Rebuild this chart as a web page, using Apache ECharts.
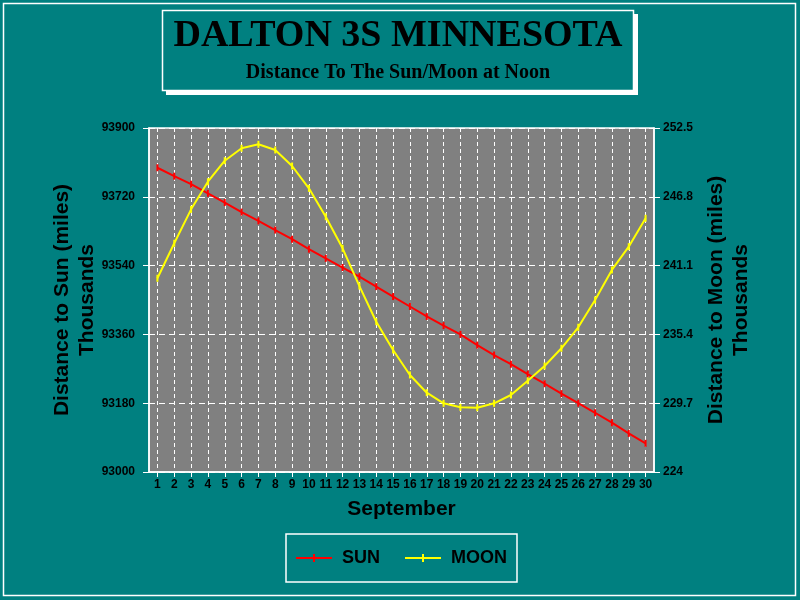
<!DOCTYPE html>
<html>
<head>
<meta charset="utf-8">
<script src="https://cdn.jsdelivr.net/npm/echarts@6/dist/echarts.min.js"></script>
<style>html,body{margin:0;padding:0;background:#008080;}#chart{width:800px;height:600px;}</style>
</head>
<body>
<div id="chart"></div>
<script>
const titleText = 'DALTON 3S MINNESOTA';
const subtitleText = 'Distance To The Sun/Moon at Noon';
const days = ['1','2','3','4','5','6','7','8','9','10','11','12','13','14','15','16','17','18','19','20','21','22','23','24','25','26','27','28','29','30'];
const sunValues = [93796,93774,93753,93729,93705,93680,93657,93633,93609,93583,93559,93535,93511,93485,93459,93433,93407,93383,93360,93332,93306,93282,93256,93231,93205,93180,93155,93129,93101,93075];
const moonValues = [240.05,242.95,245.76,248.05,249.79,250.82,251.15,250.68,249.35,247.50,245.15,242.53,239.4,236.45,234.11,232.04,230.57,229.69,229.36,229.33,229.69,230.38,231.56,232.78,234.25,235.99,238.25,240.74,242.67,245.02];
const sunAxis = {min: 93000, max: 93900, step: 180};
const moonAxis = {min: 224, max: 252.5, step: 5.7};

const SANS = '"Liberation Sans", Arial, sans-serif';
const SERIF = '"Liberation Serif", "Times New Roman", serif';
const TEAL = '#008080';
const LEGEND_ICON = 'path://M0,3 L36,3 L36,5 L0,5 Z M17,0 L19,0 L19,8 L17,8 Z';

const chart = echarts.init(document.getElementById('chart'), null, {renderer: 'canvas'});
chart.setOption({
  backgroundColor: TEAL,
  animation: false,
  graphic: [
    {type: 'rect', shape: {x: 3.5, y: 3.5, width: 792, height: 592}, style: {fill: 'none', stroke: '#fff', lineWidth: 1.5}, silent: true},
    {type: 'rect', shape: {x: 166, y: 14, width: 472, height: 81}, style: {fill: '#fff'}, silent: true},
    {type: 'rect', shape: {x: 162.5, y: 10.5, width: 471, height: 80}, style: {fill: TEAL, stroke: '#fff', lineWidth: 1.5}, silent: true},
    {type: 'text', x: 398, y: 36, style: {text: titleText, fill: '#000', font: 'bold 38px ' + SERIF, textAlign: 'center', textVerticalAlign: 'middle'}, silent: true},
    {type: 'text', x: 398, y: 73, style: {text: subtitleText, fill: '#000', font: 'bold 20px ' + SERIF, textAlign: 'center', textVerticalAlign: 'middle'}, silent: true}
  ],
  legend: {
    left: 286, top: 534,
    padding: [15, 10, 15, 10],
    borderColor: '#fff', borderWidth: 1.5,
    itemWidth: 36, itemHeight: 8, itemGap: 25,
    textStyle: {color: '#000', fontSize: 18, fontWeight: 'bold', fontFamily: SANS, padding: [0, 0, 0, 5]},
    data: [{name: 'SUN', icon: LEGEND_ICON}, {name: 'MOON', icon: LEGEND_ICON}]
  },
  grid: {left: 149, right: 146, top: 128, bottom: 128, show: true, backgroundColor: '#808080', borderColor: '#fff', borderWidth: 1.5},
  xAxis: {
    type: 'category', data: days, boundaryGap: true,
    name: 'September', nameLocation: 'middle', nameGap: 27,
    nameTextStyle: {color: '#000', fontSize: 21, fontWeight: 'bold', fontFamily: SANS},
    axisLine: {lineStyle: {color: '#fff', width: 1.5}},
    axisTick: {show: true, alignWithLabel: true, length: 5, lineStyle: {color: '#fff'}},
    axisLabel: {interval: 0, color: '#000', fontSize: 12, fontWeight: 'bold', fontFamily: SANS, margin: 7},
    splitLine: {show: true, alignWithLabel: true, lineStyle: {color: '#fff', type: [4, 3], width: 1}}
  },
  yAxis: [
    {
      type: 'value', position: 'left', min: sunAxis.min, max: sunAxis.max, interval: sunAxis.step,
      name: 'Distance to Sun (miles)\nThousands', nameLocation: 'middle', nameGap: 49, nameRotate: 90,
      nameMoveOverlap: false,
      nameTextStyle: {color: '#000', fontSize: 21, fontWeight: 'bold', fontFamily: SANS, lineHeight: 25},
      axisLine: {show: true, lineStyle: {color: '#fff', width: 1.5}},
      axisTick: {show: true, length: 6, lineStyle: {color: '#fff'}},
      axisLabel: {color: '#000', fontSize: 12, fontWeight: 'bold', fontFamily: SANS, margin: 14,
        formatter: v => String(Math.round(v))},
      splitLine: {show: true, lineStyle: {color: '#fff', type: [6, 4], width: 1}}
    },
    {
      type: 'value', position: 'right', min: moonAxis.min, max: moonAxis.max, interval: moonAxis.step,
      name: 'Distance to Moon (miles)\nThousands', nameLocation: 'middle', nameGap: 50, nameRotate: 90,
      nameMoveOverlap: false,
      nameTextStyle: {color: '#000', fontSize: 21, fontWeight: 'bold', fontFamily: SANS, lineHeight: 25},
      axisLine: {show: true, lineStyle: {color: '#fff', width: 1.5}},
      axisTick: {show: true, length: 6, lineStyle: {color: '#fff'}},
      axisLabel: {color: '#000', fontSize: 12, fontWeight: 'bold', fontFamily: SANS, margin: 9,
        formatter: v => (Math.round(v * 10) / 10).toString()},
      splitLine: {show: false}
    }
  ],
  series: [
    {name: 'SUN', type: 'line', yAxisIndex: 0, data: sunValues, color: '#ff0000',
     lineStyle: {color: '#ff0000', width: 2}, symbol: 'rect', symbolSize: [2, 7], showAllSymbol: true,
     itemStyle: {color: '#ff0000'}},
    {name: 'MOON', type: 'line', yAxisIndex: 1, data: moonValues, color: '#ffff00',
     lineStyle: {color: '#ffff00', width: 2}, symbol: 'rect', symbolSize: [2, 7], showAllSymbol: true,
     itemStyle: {color: '#ffff00'}}
  ]
});
</script>
</body>
</html>
